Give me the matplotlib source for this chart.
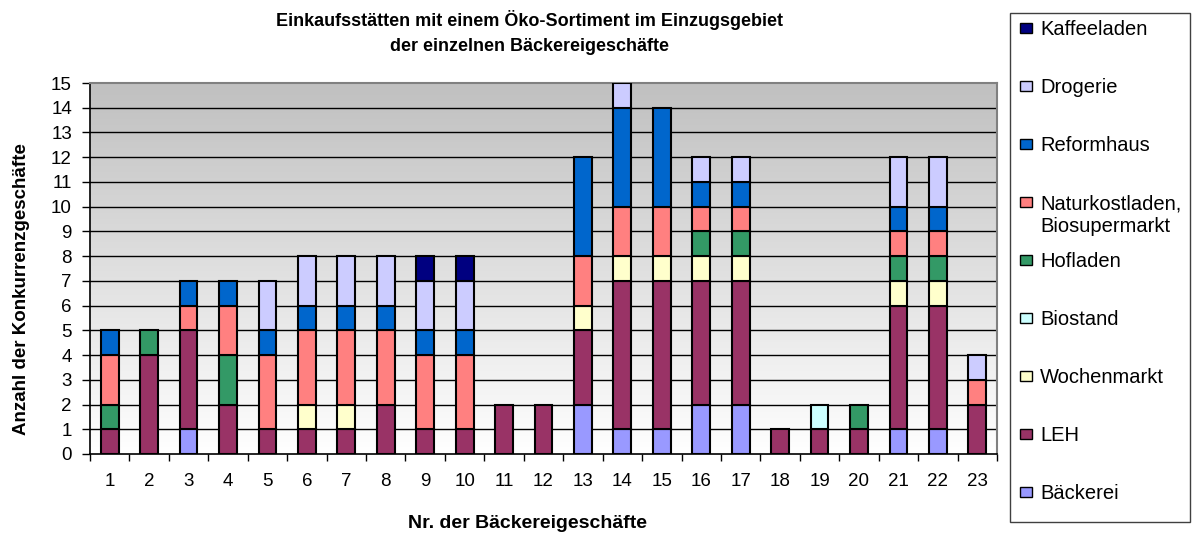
import numpy as np
import matplotlib
matplotlib.use("Agg")
import matplotlib.pyplot as plt
from matplotlib.colors import LinearSegmentedColormap
from matplotlib.patches import Rectangle

plt.rcParams['font.family'] = ['Liberation Sans', 'DejaVu Sans']

# Daten: Anzahl der Konkurrenzgeschäfte je Bäckereigeschäft
geschaefte = list(range(1, 24))
baeckerei   = [0, 0, 1, 0, 0, 0, 0, 0, 0, 0, 0, 0, 2, 1, 1, 2, 2, 0, 0, 0, 1, 1, 0]
leh         = [1, 4, 4, 2, 1, 1, 1, 2, 1, 1, 2, 2, 3, 6, 6, 5, 5, 1, 1, 1, 5, 5, 2]
wochenmarkt = [0, 0, 0, 0, 0, 1, 1, 0, 0, 0, 0, 0, 1, 1, 1, 1, 1, 0, 0, 0, 1, 1, 0]
biostand    = [0, 0, 0, 0, 0, 0, 0, 0, 0, 0, 0, 0, 0, 0, 0, 0, 0, 0, 1, 0, 0, 0, 0]
hofladen    = [1, 1, 0, 2, 0, 0, 0, 0, 0, 0, 0, 0, 0, 0, 0, 1, 1, 0, 0, 1, 1, 1, 0]
naturkost   = [2, 0, 1, 2, 3, 3, 3, 3, 3, 3, 0, 0, 2, 2, 2, 1, 1, 0, 0, 0, 1, 1, 1]
reformhaus  = [1, 0, 1, 1, 1, 1, 1, 1, 1, 1, 0, 0, 4, 4, 4, 1, 1, 0, 0, 0, 1, 1, 0]
drogerie    = [0, 0, 0, 0, 2, 2, 2, 2, 2, 2, 0, 0, 0, 1, 0, 1, 1, 0, 0, 0, 2, 2, 1]
kaffeeladen = [0, 0, 0, 0, 0, 0, 0, 0, 1, 1, 0, 0, 0, 0, 0, 0, 0, 0, 0, 0, 0, 0, 0]

reihen = [
    ("Bäckerei", baeckerei, "#9999FF"),
    ("LEH", leh, "#993366"),
    ("Wochenmarkt", wochenmarkt, "#FFFFCC"),
    ("Biostand", biostand, "#CCFFFF"),
    ("Hofladen", hofladen, "#339966"),
    ("Naturkostladen,\nBiosupermarkt", naturkost, "#FF8080"),
    ("Reformhaus", reformhaus, "#0066CC"),
    ("Drogerie", drogerie, "#CCCCFF"),
    ("Kaffeeladen", kaffeeladen, "#000080"),
]

W, H = 1192, 535
fig = plt.figure(figsize=(W / 100, H / 100), dpi=100)
ax = fig.add_axes([90 / W, 1 - 454 / H, (997 - 90) / W, (454 - 83) / H])

# Hintergrund mit Verlauf (grau oben, weiss unten)
cmap = LinearSegmentedColormap.from_list("bg", ["#FFFFFF", "#C0C0C0"])
grad = np.linspace(1, 0, 256).reshape(-1, 1)
ax.imshow(grad, extent=[0.5, 23.5, 0, 15], aspect='auto', cmap=cmap,
          vmin=0, vmax=1, zorder=0, interpolation='bicubic')

for y in range(1, 15):
    ax.axhline(y, color='black', lw=1.0, zorder=1)

x = np.array(geschaefte)
unten = np.zeros(len(x))
for name, werte, farbe in reihen:
    werte = np.array(werte)
    m = werte > 0
    ax.bar(x[m], werte[m], bottom=unten[m], width=0.45, color=farbe,
           edgecolor='black', linewidth=1.5, zorder=3)
    unten = unten + werte

ax.set_xlim(0.5, 23.5)
ax.set_ylim(0, 15)
ax.set_yticks(range(0, 16))
ax.set_xticks(x)
ax.set_xticks(np.arange(0.5, 24, 1), minor=True)
ax.tick_params(axis='x', which='major', length=0, pad=14, labelsize=13.5)
ax.tick_params(axis='x', which='minor', length=5, width=1, direction='out')
ax.tick_params(axis='y', length=6, width=1, pad=7, labelsize=13.5)

for s in ['top', 'right']:
    ax.spines[s].set_color('#808080')
    ax.spines[s].set_linewidth(1.5)
for s in ['left', 'bottom']:
    ax.spines[s].set_color('black')
    ax.spines[s].set_linewidth(1.2)

fig.text(530 / W, 1 - 20 / H, "Einkaufsstätten mit einem Öko-Sortiment im Einzugsgebiet",
         ha='center', va='center', fontsize=13, fontweight='bold')
fig.text(530 / W, 1 - 47 / H, "der einzelnen Bäckereigeschäfte",
         ha='center', va='center', fontsize=13, fontweight='bold')
fig.text(22 / W, 1 - 289 / H, "Anzahl der Konkurrenzgeschäfte", rotation=90,
         ha='center', va='center', fontsize=13.5, fontweight='bold')
fig.text(527 / W, 1 - 524 / H, "Nr. der Bäckereigeschäfte",
         ha='center', va='center', fontsize=14, fontweight='bold')

# Legende als Kasten rechts
fig.patches.append(Rectangle((1010 / W, 1 - 522 / H), 180 / W, 509 / H,
                             transform=fig.transFigure, facecolor='white',
                             edgecolor='#404040', linewidth=1.0))
y0 = 28
for i, (name, werte, farbe) in enumerate(reversed(reihen)):
    yc = y0 + i * 58
    fig.patches.append(Rectangle((1020 / W, 1 - (yc + 5) / H), 12 / W, 10 / H,
                                 transform=fig.transFigure, facecolor=farbe,
                                 edgecolor='black', linewidth=1.0))
    fig.text(1040 / W, 1 - (yc - 8) / H, name, ha='left', va='top',
             fontsize=14.5, linespacing=1.3)

fig.savefig("out.png", dpi=100)
